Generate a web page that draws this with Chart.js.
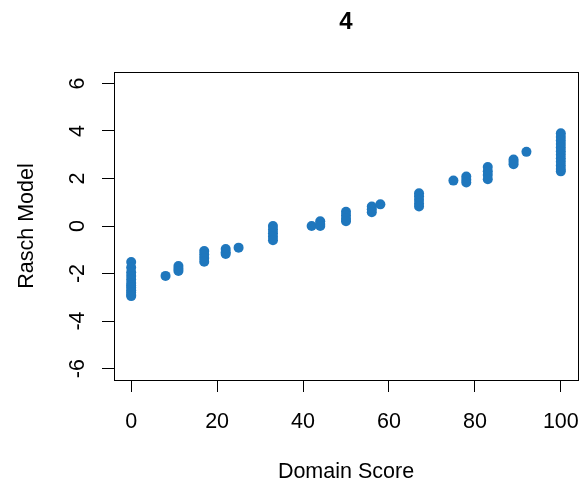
<!DOCTYPE html>
<html>
<head>
<meta charset="utf-8">
<script src="https://cdn.jsdelivr.net/npm/chart.js@4/dist/chart.umd.min.js"></script>
<style>
  html, body { margin: 0; padding: 0; background: #fff; }
  #wrap { width: 585px; height: 489px; }
</style>
</head>
<body>
<div id="wrap"><canvas id="c" width="585" height="489"></canvas></div>
<script>
// Domain score vs. Rasch model estimate, one point per respondent
const domainScore = [
  0,0,0,0,0,0,0,0,0,0,0,0,
  8,
  11,11,11,
  17,17,17,17,
  22,22,22,
  25,
  33,33,33,33,33,
  42,
  44,44,44,
  50,50,50,50,
  56,56,56,
  58,
  67,67,67,67,67,
  75,
  78,78,78,
  83,83,83,83,
  89,89,89,
  92,
  100,100,100,100,100,100,100,100,100,100,100,100
];
const raschModel = [
  -1.52,-1.75,-1.95,-2.1,-2.25,-2.4,-2.5,-2.6,-2.7,-2.8,-2.9,-2.95,
  -2.1,
  -1.68,-1.8,-1.89,
  -1.05,-1.2,-1.35,-1.5,
  -0.97,-1.1,-1.18,
  -0.91,
  0,-0.15,-0.3,-0.45,-0.6,
  0,
  0.2,0.08,0,
  0.6,0.45,0.3,0.2,
  0.82,0.7,0.58,
  0.91,
  1.38,1.25,1.1,0.95,0.82,
  1.91,
  2.08,1.95,1.83,
  2.48,2.3,2.15,1.97,
  2.8,2.7,2.6,
  3.12,
  3.9,3.75,3.6,3.45,3.3,3.15,3.0,2.85,2.7,2.55,2.4,2.3
];
const xTicks = [0, 20, 40, 60, 80, 100];
const yTicks = [-6, -4, -2, 0, 2, 4, 6];
const titleText = '4';
const xTitle = 'Domain Score';
const yTitle = 'Rasch Model';

const FONT = '"Liberation Sans", Arial, sans-serif';
const LABEL_PX = 21.5;

// Box around the plot region plus all text, placed through the chart's scales
const framePlugin = {
  id: 'frame',
  afterDraw(chart) {
    const { ctx, chartArea: a, scales: { x, y } } = chart;
    ctx.save();
    ctx.strokeStyle = '#000';
    ctx.lineWidth = 1;
    ctx.strokeRect(Math.round(a.left) + 0.5, Math.round(a.top) + 0.5,
                   Math.round(a.right - a.left), Math.round(a.bottom - a.top));

    ctx.fillStyle = '#000';
    ctx.font = LABEL_PX + 'px ' + FONT;
    ctx.textAlign = 'center';
    ctx.textBaseline = 'alphabetic';
    xTicks.forEach(v => ctx.fillText(String(v), x.getPixelForValue(v), a.bottom + 47.5));
    ctx.fillText(xTitle, (a.left + a.right) / 2, a.bottom + 98);

    yTicks.forEach(v => {
      ctx.save();
      ctx.translate(a.left - 30.5, y.getPixelForValue(v));
      ctx.rotate(-Math.PI / 2);
      ctx.fillText(String(v), 0, 0);
      ctx.restore();
    });
    ctx.save();
    ctx.translate(33, (a.top + a.bottom) / 2);
    ctx.rotate(-Math.PI / 2);
    ctx.fillText(yTitle, 0, 0);
    ctx.restore();

    ctx.font = 'bold 24px ' + FONT;
    ctx.fillText(titleText, (a.left + a.right) / 2, 28.5);
    ctx.restore();
  }
};

new Chart(document.getElementById('c'), {
  type: 'scatter',
  data: {
    datasets: [{
      data: domainScore.map((v, i) => ({ x: v, y: raschModel[i] })),
      backgroundColor: '#1f77bd',
      borderWidth: 0,
      pointRadius: 5,
      pointHoverRadius: 5
    }]
  },
  options: {
    responsive: false,
    animation: false,
    events: [],
    layout: { padding: { left: 102, right: 7, top: 72, bottom: 97 } },
    plugins: { legend: { display: false }, tooltip: { enabled: false } },
    scales: {
      x: {
        type: 'linear',
        min: -4, max: 104,
        afterBuildTicks: s => { s.ticks = xTicks.map(v => ({ value: v })); },
        ticks: { display: false },
        grid: { drawOnChartArea: false, drawTicks: true, tickLength: 12, color: '#000', lineWidth: 1 },
        border: { display: false }
      },
      y: {
        type: 'linear',
        min: -6.48, max: 6.48,
        afterBuildTicks: s => { s.ticks = yTicks.map(v => ({ value: v })); },
        ticks: { display: false },
        grid: { drawOnChartArea: false, drawTicks: true, tickLength: 12, color: '#000', lineWidth: 1 },
        border: { display: false }
      }
    }
  },
  plugins: [framePlugin]
});
</script>
</body>
</html>
